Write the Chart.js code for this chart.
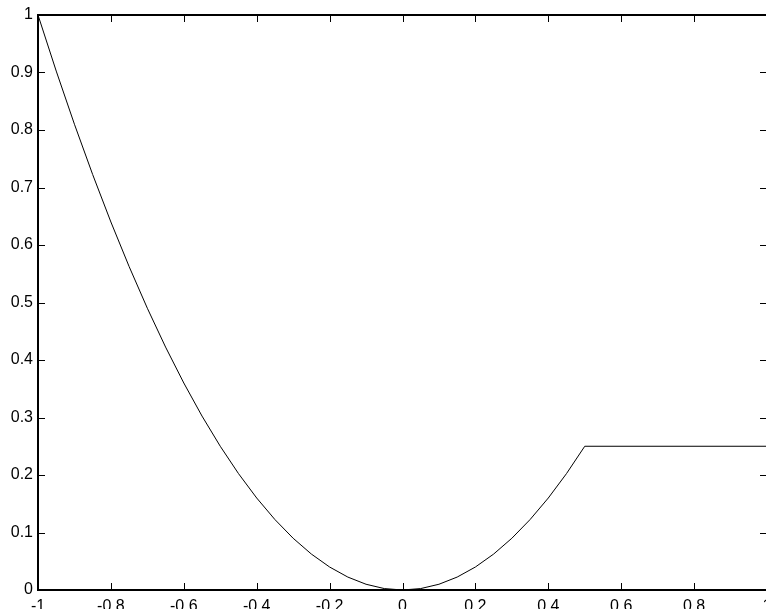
<!DOCTYPE html>
<html>
<head>
<meta charset="utf-8">
<script src="https://cdn.jsdelivr.net/npm/chart.js@4"></script>
<style>
  html, body { margin: 0; padding: 0; overflow: hidden; background: #fff; }
  canvas { display: block; }
</style>
</head>
<body>
<canvas id="plot" width="800" height="640"></canvas>
<script>
  // values
  const xValues = [-1, -0.95, -0.9, -0.85, -0.8, -0.75, -0.7, -0.65, -0.6, -0.55, -0.5,
    -0.45, -0.4, -0.35, -0.3, -0.25, -0.2, -0.15, -0.1, -0.05, 0,
    0.05, 0.1, 0.15, 0.2, 0.25, 0.3, 0.35, 0.4, 0.45, 0.5, 1];
  const yValues = [1, 0.9025, 0.81, 0.7225, 0.64, 0.5625, 0.49, 0.4225, 0.36, 0.3025, 0.25,
    0.2025, 0.16, 0.1225, 0.09, 0.0625, 0.04, 0.0225, 0.01, 0.0025, 0,
    0.0025, 0.01, 0.0225, 0.04, 0.0625, 0.09, 0.1225, 0.16, 0.2025, 0.25, 0.25];
  const xTicks = [-1, -0.8, -0.6, -0.4, -0.2, 0, 0.2, 0.4, 0.6, 0.8, 1];
  const yTicks = [0, 0.1, 0.2, 0.3, 0.4, 0.5, 0.6, 0.7, 0.8, 0.9, 1];

  const points = xValues.map((x, i) => ({ x: x, y: yValues[i] }));

  // box round the plot and inward tick marks on all four sides
  const boxPlugin = {
    id: 'box',
    afterDraw(chart) {
      const { ctx, chartArea: a, scales } = chart;
      const len = 7;
      ctx.save();
      ctx.strokeStyle = '#000';
      ctx.lineWidth = 1;
      xTicks.forEach(v => {
        const px = Math.round(scales.x.getPixelForValue(v)) + 0.5;
        ctx.beginPath();
        ctx.moveTo(px, a.bottom); ctx.lineTo(px, a.bottom - len);
        ctx.moveTo(px, a.top); ctx.lineTo(px, a.top + len);
        ctx.stroke();
      });
      yTicks.forEach(v => {
        const py = Math.round(scales.y.getPixelForValue(v)) + 0.5;
        ctx.beginPath();
        ctx.moveTo(a.left, py); ctx.lineTo(a.left + len, py);
        ctx.moveTo(a.right, py); ctx.lineTo(a.right - len, py);
        ctx.stroke();
      });
      ctx.lineWidth = 2;
      ctx.strokeRect(a.left, a.top, a.right - a.left, a.bottom - a.top);
      ctx.restore();
    }
  };

  const tickFont = { family: '"Liberation Sans", Arial, sans-serif', size: 16 };

  new Chart(document.getElementById('plot').getContext('2d'), {
    type: 'line',
    data: {
      datasets: [{
        data: points,
        borderColor: '#000',
        borderWidth: 1,
        pointRadius: 0,
        tension: 0,
        fill: false
      }]
    },
    options: {
      responsive: false,
      animation: false,
      layout: { padding: { top: 15, right: 33, left: 0, bottom: 0 } },
      plugins: { legend: { display: false }, tooltip: { enabled: false } },
      scales: {
        x: {
          type: 'linear',
          min: -1,
          max: 1,
          afterBuildTicks: s => { s.ticks = xTicks.map(v => ({ value: v })); },
          afterFit: s => { s.height = 50; },
          grid: { display: false, drawTicks: false },
          border: { display: false },
          ticks: {
            color: '#000',
            font: tickFont,
            padding: 7,
            maxRotation: 0,
            autoSkip: false,
            callback: v => String(v)
          }
        },
        y: {
          type: 'linear',
          min: 0,
          max: 1,
          afterBuildTicks: s => { s.ticks = yTicks.map(v => ({ value: v })); },
          afterFit: s => { s.width = 38; },
          grid: { display: false, drawTicks: false },
          border: { display: false },
          ticks: {
            color: '#000',
            font: tickFont,
            padding: 5,
            autoSkip: false,
            callback: v => String(v)
          }
        }
      }
    },
    plugins: [boxPlugin]
  });
</script>
</body>
</html>
